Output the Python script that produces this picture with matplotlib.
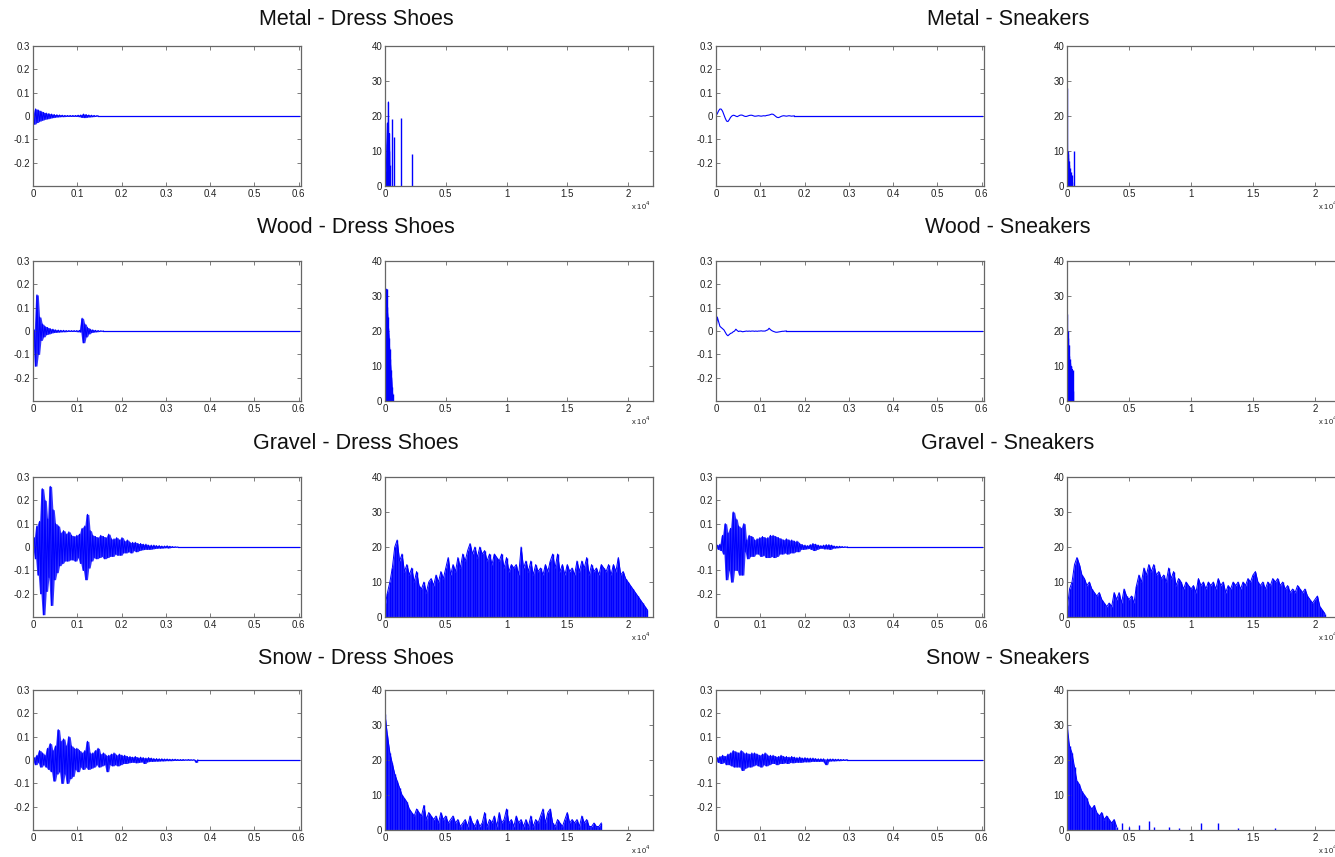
import numpy as np
import matplotlib
matplotlib.use('Agg')
import matplotlib.pyplot as plt

plt.rcParams['font.family'] = ['Liberation Sans', 'DejaVu Sans']

surfaces = ['Metal', 'Wood', 'Gravel', 'Snow']
shoes = ['Dress Shoes', 'Sneakers']

# footstep waveforms, one sample every 3 ms, amplitude in units of 1e-3
sample_dt = 0.003
clip_len = 0.6

metal_ds_wave = [0, -35, 30, -28, 25, -22, 20, -18, 15, -14,
                 12, -12, 10, -9, 8, -7, 6, -5, 5, -4,
                 4, -3, 3, -3, 2, -2, 2, -2, 2, -2,
                 2, -2, 2, -2, 3, -3, 4, -6, 8, -7,
                 6, -5, 4, -4, 3, -3, 2, -2, 1, 0]
metal_sn_wave = [0, 10, 22, 30, 29, 20, 5, -10, -22, -24,
                 -16, -6, 0, 3, 2, -1, -3, 0, 3, 4,
                 3, 0, -2, -2, 0, 2, 3, 3, 1, -1,
                 -1, 0, 1, 0, -1, 0, 1, 0, 2, 3,
                 4, 6, 8, 7, 3, -2, -6, -7, -5, -2,
                 0, 1, 0, -1, 0, 1, 0, -1, 0, 0]
wood_ds_wave = [0, 5, -150, 155, -100, 60, -40, 30, -25, 20,
                -15, 15, -12, 10, -8, 8, -6, 5, -5, 4,
                -4, 3, -3, 3, -3, 2, -2, 2, -2, 2,
                -2, 2, -2, 2, -3, 3, -4, 55, -50, 30,
                -25, 15, -12, 8, -6, 5, -4, 3, -3, 2,
                -2, 1, -1, 0]
wood_sn_wave = [0, 60, 40, 20, 15, 10, 5, -5, -15, -20,
                -15, -10, -8, -3, 0, 8, 2, -2, 0, -1,
                -3, -2, -1, 0, -1, 0, -1, 0, 0, -1,
                0, -1, 0, 0, 1, 0, 0, 0, 3, 5,
                12, 6, 2, -1, -3, -5, -5, -4, -3, -2,
                -1, -1, 0, 0]
gravel_ds_wave = [0, 40, -50, 90, -120, 110, -200, 250, -290, 200,
                  -190, 120, -130, 260, -250, 160, -140, 100, -110, 90,
                  -80, 60, -70, 70, -60, 55, -60, 65, -55, 50,
                  -55, 45, -60, 50, -45, 55, -70, 80, -100, 90,
                  -140, 140, -90, 70, -60, 50, -45, 45, -50, 40,
                  -45, 50, -40, 45, -50, 40, -45, 55, -40, 35,
                  -40, 35, -30, 40, -35, 30, -35, 40, -25, 25,
                  -25, 30, -20, 20, -25, 20, -15, 20, -20, 15,
                  -15, 15, -12, 12, -10, 12, -10, 8, -10, 8,
                  -8, 8, -6, 6, -5, 6, -5, 4, -4, 4,
                  -3, 5, -4, 3, -2, 2, -2, 1, -1, 0]
gravel_sn_wave = [0, 8, -10, 12, -15, 50, -30, 100, -140, 60,
                  -100, 80, -150, 150, -100, 120, -100, 90, -120, 80,
                  -120, 100, -20, 30, -50, 50, -40, 45, -40, 30,
                  -30, 35, -30, 40, -40, 45, -35, 40, -45, 40,
                  -45, 50, -40, 50, -45, 45, -40, 40, -30, 35,
                  -30, 30, -25, 35, -30, 30, -25, 30, -25, 25,
                  -20, 25, -20, 15, -10, 10, -10, 8, -8, 6,
                  -6, 10, -10, 15, -15, 12, -10, 8, -6, 6,
                  -5, 8, -8, 10, -8, 10, -10, 8, -5, 4,
                  -4, 3, -3, 3, -2, 2, -2, 1, -1, 0]
snow_ds_wave = [0, 10, -20, 20, -10, 40, -30, 30, -20, 20,
                -30, 50, -40, 70, -50, 40, -90, 60, -60, 130,
                -50, 80, -100, 90, -60, 60, -100, 100, -80, 60,
                -70, 50, -40, 50, -50, 40, -30, 30, -40, 40,
                -30, 80, -40, 30, -35, 30, -30, 40, -20, 50,
                -30, 25, -25, 30, -20, 20, -50, 20, -20, 25,
                -25, 30, -20, 20, -25, 25, -20, 20, -15, 20,
                -15, 15, -12, 15, -10, 12, -10, 15, -12, 10,
                -10, 12, -8, 10, -15, 8, -8, 10, -6, 8,
                -6, 6, -5, 6, -5, 5, -4, 5, -4, 4,
                -3, 4, -3, 3, -3, 3, -2, 3, -2, 2,
                -2, 2, -2, 2, -1, 1, -1, 2, -1, 1, -1, 1, -1, -10, 0]
snow_sn_wave = [0, 10, -10, 15, -15, 20, -10, 15, -20, 25,
                -20, 30, -25, 40, -30, 35, -30, 30, -30, 40,
                -45, 30, -35, 30, -30, 25, -30, 30, -25, 30,
                -20, 25, -25, 20, -30, 25, -20, 30, -25, 20,
                -20, 20, -15, 20, -15, 15, -20, 15, -15, 20,
                -15, 15, -12, 15, -15, 12, -10, 15, -12, 12,
                -10, 10, -10, 12, -10, 8, -8, 10, -8, 8,
                -8, 8, -6, 8, -6, 6, -6, 5, -6, 5,
                -5, 5, -10, -20, 4, -5, 4, -4, 4, -4,
                3, -3, 3, -3, 2, -2, 2, -2, 1, 0]

# magnitude spectra: sparse ones as (Hz, magnitude) pairs
metal_ds_freq = [0, 50, 100, 150, 200, 250, 280, 320, 360, 400, 430,
                 550, 590, 630, 660, 700, 740, 1250, 1300, 1350, 2150, 2200, 2250]
metal_ds_mag = [0, 4, 2, 12, 18, 8, 24, 10, 15, 6, 0,
                0, 19, 0, 0, 14, 0, 0, 19.5, 0, 0, 9, 0]
metal_sn_freq = [0, 20, 40, 60, 80, 100, 130, 160, 200, 240, 280, 320, 360, 400, 430, 560, 580, 600]
metal_sn_mag = [0, 28, 10, 9, 8, 4, 7, 6, 5, 3, 4, 2, 3, 1, 0, 0, 10, 0]
wood_ds_freq = [0, 20, 50, 80, 110, 140, 180, 230, 280, 330, 380, 430, 480, 530, 580, 630, 680]
wood_ds_mag = [0, 20, 12, 25, 22, 32, 27, 24, 21, 18, 15, 12, 9, 7, 4, 2, 0]
wood_sn_freq = [0, 20, 40, 70, 100, 130, 160, 200, 240, 280, 320, 360, 400, 440, 480, 500]
wood_sn_mag = [0, 25, 20, 18, 15, 16, 13, 12, 11, 10, 10, 8, 6, 9, 3, 0]

# dense spectra: one value per 200 Hz bin
bin_hz = 200
gravel_ds_mag = [3, 7, 10, 14, 20, 22, 16, 18, 13, 15,
                 12, 14, 10, 13, 9, 8, 10, 7, 10, 11,
                 9, 12, 10, 13, 11, 14, 17, 12, 15, 13,
                 17, 14, 18, 16, 19, 21, 18, 20, 17, 20,
                 18, 19, 16, 18, 15, 18, 17, 16, 18, 14,
                 17, 13, 15, 14, 15, 12, 20, 14, 16, 13,
                 16, 12, 15, 13, 14, 12, 15, 13, 16, 18,
                 14, 18, 13, 15, 12, 15, 13, 14, 12, 16,
                 13, 16, 14, 17, 12, 15, 13, 14, 12, 15,
                 14, 13, 15, 12, 15, 13, 17, 12, 13, 11,
                 10, 9, 8, 7, 6, 5, 4, 3, 2, 0]
gravel_sn_mag = [2, 8, 10, 15, 17, 15, 12, 11, 9, 10,
                 8, 7, 6, 7, 5, 4, 3, 4, 3, 7,
                 5, 7, 4, 8, 6, 5, 6, 4, 9, 12,
                 10, 14, 12, 15, 13, 15, 12, 13, 11, 12,
                 10, 14, 11, 13, 9, 11, 10, 8, 10, 9,
                 8, 9, 7, 11, 9, 10, 8, 10, 9, 10,
                 8, 11, 9, 10, 7, 9, 8, 10, 9, 10,
                 8, 10, 9, 11, 10, 12, 13, 10, 9, 10,
                 8, 10, 9, 11, 10, 11, 9, 10, 8, 9,
                 7, 8, 7, 9, 8, 7, 8, 6, 5, 4,
                 5, 6, 3, 2, 1, 0]
snow_ds_mag = [33, 27, 22, 19, 16, 14, 12, 10, 9, 8,
               6, 5, 4, 6, 5, 4, 7, 3, 5, 4,
               3, 4, 2, 5, 3, 4, 2, 3, 4, 2,
               3, 1, 2, 3, 1, 4, 2, 1, 3, 1,
               2, 5, 1, 3, 2, 4, 1, 5, 2, 3,
               6, 2, 3, 1, 4, 2, 3, 1, 3, 1,
               4, 1, 3, 2, 4, 6, 2, 5, 6, 2,
               1, 3, 2, 1, 3, 5, 2, 3, 2, 3,
               1, 4, 2, 3, 1, 1, 2, 1, 1, 2]
snow_sn_mag = [30, 24, 22, 18, 14, 13, 11, 10, 9, 7,
               6, 7, 5, 4, 5, 3, 4, 3, 2, 3,
               1, 0, 2, 0, 0, 1, 0, 0, 0, 1.5,
               0, 0, 0, 2.5, 0, 1, 0, 0, 0, 0,
               0, 1, 0, 0, 0, 0.5, 0, 0, 0, 0,
               0, 0, 0, 0, 2, 0, 0, 0, 0, 0,
               0, 2, 0, 0, 0, 0, 0, 0, 0, 0.5,
               0, 0, 0, 0, 0, 0, 0, 0, 0, 0,
               0, 0, 0, 0, 0.5, 0]

time_ticks = [0, 0.1, 0.2, 0.3, 0.4, 0.5, 0.6]
time_labels = ['0', '0.1', '0.2', '0.3', '0.4', '0.5', '0.6']
amp_ticks = [-0.2, -0.1, 0, 0.1, 0.2, 0.3]
amp_labels = ['-0.2', '-0.1', '0', '0.1', '0.2', '0.3']
freq_ticks = [0, 5000, 10000, 15000, 20000]
freq_labels = ['0', '0.5', '1', '1.5', '2']
mag_ticks = [0, 10, 20, 30, 40]


def bins(mag):
    return np.arange(len(mag)) * bin_hz


waves = {
    ('Metal', 'Dress Shoes'): metal_ds_wave, ('Metal', 'Sneakers'): metal_sn_wave,
    ('Wood', 'Dress Shoes'): wood_ds_wave, ('Wood', 'Sneakers'): wood_sn_wave,
    ('Gravel', 'Dress Shoes'): gravel_ds_wave, ('Gravel', 'Sneakers'): gravel_sn_wave,
    ('Snow', 'Dress Shoes'): snow_ds_wave, ('Snow', 'Sneakers'): snow_sn_wave,
}
# these two decay smoothly, no dense oscillation band
smooth_waves = {('Metal', 'Sneakers'), ('Wood', 'Sneakers')}

spectra = {
    ('Metal', 'Dress Shoes'): (metal_ds_freq, metal_ds_mag),
    ('Metal', 'Sneakers'): (metal_sn_freq, metal_sn_mag),
    ('Wood', 'Dress Shoes'): (wood_ds_freq, wood_ds_mag),
    ('Wood', 'Sneakers'): (wood_sn_freq, wood_sn_mag),
    ('Gravel', 'Dress Shoes'): (bins(gravel_ds_mag), gravel_ds_mag),
    ('Gravel', 'Sneakers'): (bins(gravel_sn_mag), gravel_sn_mag),
    ('Snow', 'Dress Shoes'): (bins(snow_ds_mag), snow_ds_mag),
    ('Snow', 'Sneakers'): (bins(snow_sn_mag), snow_sn_mag),
}


def style(ax):
    for s in ax.spines.values():
        s.set_color('#666666')
        s.set_linewidth(0.9)
    ax.tick_params(direction='in', top=True, right=True, length=3, width=0.6,
                   labelsize=7, pad=2, color='#666666', labelcolor='#222222')


def draw_wave(ax, wave, smooth):
    w = np.array(wave) * 1e-3
    t = np.arange(len(w)) * sample_dt
    if not smooth:
        # band spanned by neighbouring samples -> dense oscillation look
        padded = np.concatenate([[w[0]], w, [w[-1]]])
        hi = np.maximum(np.maximum(padded[:-2], padded[1:-1]), padded[2:])
        lo = np.minimum(np.minimum(padded[:-2], padded[1:-1]), padded[2:])
        ax.fill_between(t, lo, hi, color='blue', lw=0, alpha=0.8)
    ax.plot(t, w, color='blue', lw=0.8)
    # silence after the step until the end of the clip
    ax.plot([t[-1], clip_len], [0, 0], color='blue', lw=0.9)
    ax.set_xlim(0, 0.605)
    ax.set_ylim(-0.3, 0.3)
    ax.set_xticks(time_ticks)
    ax.set_xticklabels(time_labels)
    ax.set_yticks(amp_ticks)
    ax.set_yticklabels(amp_labels)


def draw_spec(ax, freq, mag):
    m = np.array(mag, dtype=float)
    ax.fill_between(freq, m, 0, where=m > 0, color='blue', lw=0, alpha=0.85)
    ax.vlines(freq, 0, m, color='blue', lw=1.0)
    ax.plot(freq, np.where(m > 0, m, np.nan), color='blue', lw=0.7)
    ax.set_xlim(0, 22050)
    ax.set_ylim(0, 40)
    ax.set_xticks(freq_ticks)
    ax.set_xticklabels(freq_labels)
    ax.set_yticks(mag_ticks)
    ax.text(0.99, -0.1, r'x 10$^4$', transform=ax.transAxes, ha='right', va='top',
            fontsize=5.5, color='#222222')


fig = plt.figure(figsize=(13.35, 8.57), dpi=100)

row_bottom = [0.783, 0.532, 0.280, 0.0315]
ax_h = 0.1634
ax_w = 0.2007
col_left = [(0.0247, 0.2884), (0.5363, 0.7993)]
title_x = [0.2667, 0.755]
title_y = [0.9767, 0.735, 0.483, 0.232]

for r, surf in enumerate(surfaces):
    for c, shoe in enumerate(shoes):
        ax_t = fig.add_axes([col_left[c][0], row_bottom[r], ax_w, ax_h])
        ax_f = fig.add_axes([col_left[c][1], row_bottom[r], ax_w + 0.004 * c, ax_h])
        draw_wave(ax_t, waves[(surf, shoe)], (surf, shoe) in smooth_waves)
        freq, mag = spectra[(surf, shoe)]
        draw_spec(ax_f, freq, mag)
        style(ax_t)
        style(ax_f)
        fig.text(title_x[c], title_y[r], f'{surf} - {shoe}', ha='center', va='center',
                 fontsize=15.5, color='#111111')

fig.savefig('out.png', dpi=100)
